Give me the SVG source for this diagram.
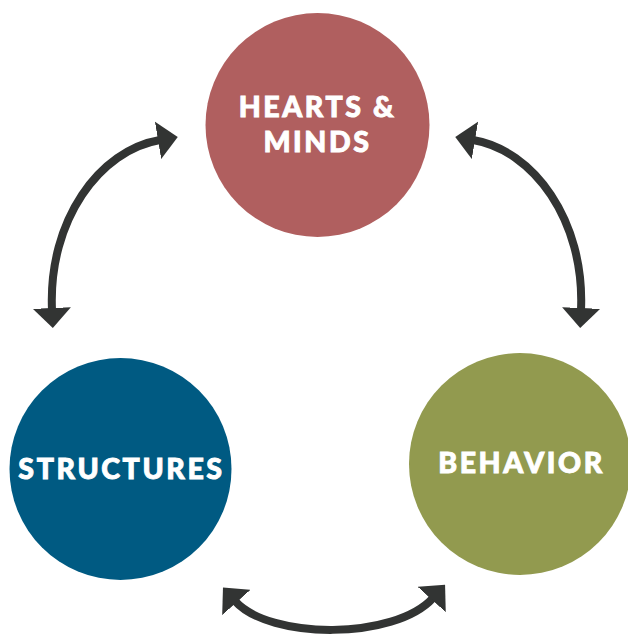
<svg xmlns="http://www.w3.org/2000/svg" width="628" height="635" viewBox="0 0 628 635">
<defs>
<style>
.lbl{font-family:Lato,"Open Sans","Liberation Sans",sans-serif;font-weight:900;font-size:28.5px;letter-spacing:2.6px;fill:#ffffff;stroke:#ffffff;stroke-width:0.9px;text-anchor:middle}
.conn{fill:none;stroke:#323433;stroke-width:8;marker-start:url(#ah);marker-end:url(#ah)}
</style>
<marker id="ah" viewBox="0 0 20 38" refX="2" refY="19" markerWidth="20" markerHeight="38" markerUnits="userSpaceOnUse" orient="auto-start-reverse">
<path d="M0,0 L20,19 L0,38 Z" fill="#323433"/>
</marker>
</defs>
<rect width="628" height="635" fill="#ffffff"/>
<g id="connectors">
<path class="conn" d="M160,140 C100,150 48,220 52,310"/>
<path class="conn" d="M473,140 C533,150 585,220 581,310"/>
<path class="conn" d="M235,601 C270,640 395,640 433,598"/>
</g>
<g id="hearts-minds">
<circle cx="317.5" cy="125" r="112" fill="#B05F5F"/>
<text class="lbl" x="317.5" y="117">HEARTS &amp;</text>
<text class="lbl" x="317.5" y="152">MINDS</text>
</g>
<g id="structures">
<circle cx="120.5" cy="469" r="111" fill="#005A82"/>
<text class="lbl" x="121.5" y="479">STRUCTURES</text>
</g>
<g id="behavior">
<circle cx="520" cy="464" r="111" fill="#929A4F"/>
<text class="lbl" x="521.5" y="473">BEHAVIOR</text>
</g>
</svg>
